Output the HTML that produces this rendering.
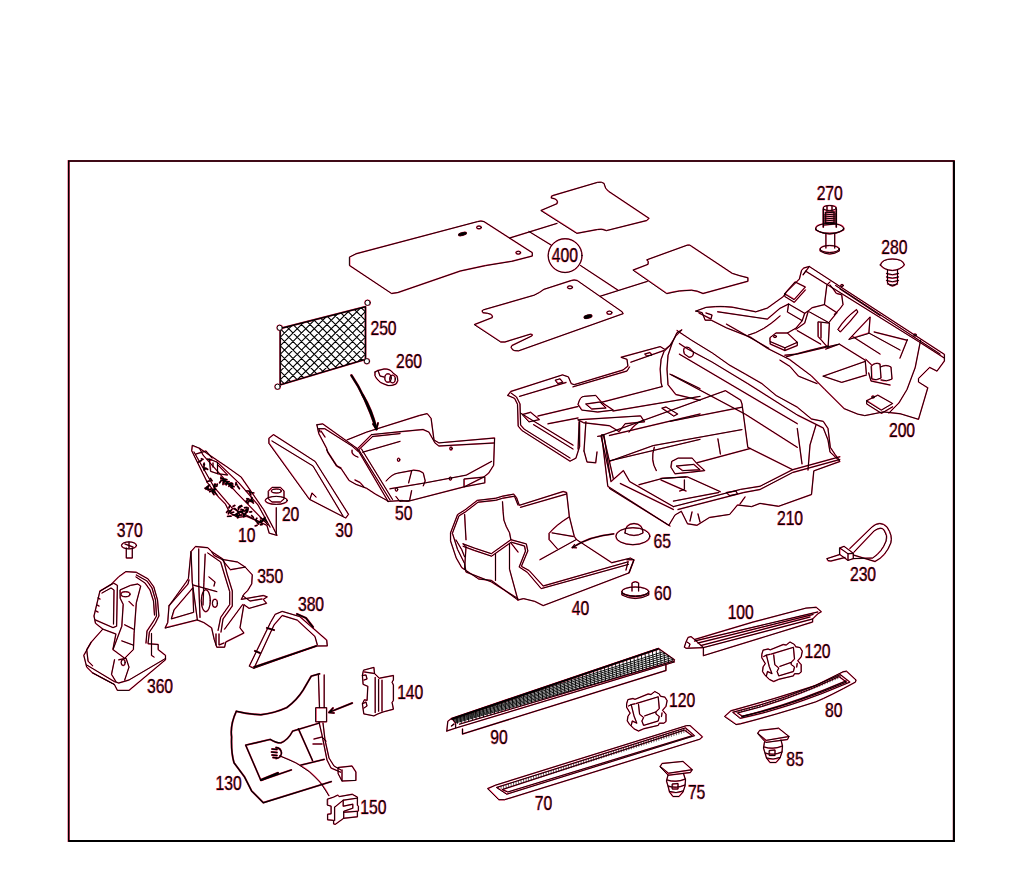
<!DOCTYPE html>
<html><head><meta charset="utf-8"><style>
html,body{margin:0;padding:0;background:#fff;width:1024px;height:891px;overflow:hidden}
svg{display:block}
.d path,.d ellipse{fill:none;stroke:#000;stroke-width:0.95;stroke-linejoin:round;stroke-linecap:round}
.d .f{fill:#000}
.u path,.u ellipse{fill:none;stroke:#ff2a5a;stroke-width:1.4;stroke-linejoin:round;stroke-linecap:round}
.u .f{fill:#ff2a5a}
text{font-family:"Liberation Sans",sans-serif;font-size:19.6px}
.tu text{fill:#ff2a5a;stroke:#ff2a5a;stroke-width:0.7}
.td text{fill:#000;stroke:#fff;stroke-width:0.12}
</style></head><body>
<svg width="1024" height="891" viewBox="0 0 1024 891">
<rect x="0" y="0" width="1024" height="891" fill="#fff"/>
<path d="M68.7,841 L68.7,161 L953.9,161 L953.9,841 Z" fill="none" stroke="#ff2a5a" stroke-width="2.2"/>
<path d="M68.7,841 L68.7,161 L953.9,161 L953.9,841 Z" fill="none" stroke="#000" stroke-width="1.5"/>
<path d="M953.9,161 L953.9,841 L68.7,841" fill="none" stroke="#000" stroke-width="2"/>
<g class="u">
<path d="M349.7,257 L356,253.8 L477.5,221.6 Q481,220.5 484,221.6 L532.3,252.7 L532.3,256 L511.9,261.3 Q485,265 460.3,271 L398,292.5 L391.6,293.5 L349.7,265.6 Z" />
<ellipse cx="462.5" cy="234" rx="4" ry="1.4" transform="rotate(-15 462.5 234)" class="f"/>
<ellipse cx="479" cy="227.4" rx="2.3" ry="1.4" />
<ellipse cx="518.3" cy="252.7" rx="2.3" ry="1.4" />
<path d="M541.2,210.4 L557,203.7 Q559,199 551.3,198 Q551,195.8 553,195.5 L597.4,182.4 Q602,181.5 604.1,183.5 Q605,189 608.6,191.3 L649,218.3 L646.8,220.5 L606.4,230.6 Q602,228.5 597.4,229.5 L577.2,233.3 Z" />
<path d="M633.3,270 L648,264.3 Q649,261 646.8,259.8 L687.2,245.2 Q690,244.5 691.7,246.4 L732.2,273.3 Q740,276 747.9,277.8 L747.9,281.2 L703,293.5 Q697,290.5 691.7,290.2 Q680,290 667,293.5 Z" />
<path d="M474.6,324.5 L492.2,317.6 Q494,313.5 483,312.7 Q481,310.5 483.4,309.8 L534.2,295.2 Q540,292.5 544,289.3 L571.3,280.5 Q574,279.5 577.2,280.5 L622.1,311.8 L623.1,313.7 L518.6,350.8 Q514,351 512.7,349.8 Q510,347 512,345.5 L531.3,336.2 Q534,334.5 530.3,334.2 L504.9,342 L501,342 Z" />
<ellipse cx="570" cy="287.3" rx="2.5" ry="1.4" />
<ellipse cx="609.4" cy="312.7" rx="2.5" ry="1.6" />
<ellipse cx="588" cy="316.6" rx="4" ry="1.6" transform="rotate(-15 588 316.6)" class="f"/>
<path d="M509.7,238 L557,223.4" />
<path d="M529,231.5 L551.3,245.2" />
<path d="M580.5,265.5 L618.2,290.3" />
<path d="M600.4,296.2 L647.3,281.4" />
<ellipse cx="565.1" cy="255.6" rx="16.9" ry="16.9" />
<path d="M280.2,328.5 L365.5,306.7 L365.5,359.4 L280.2,384.9 Z" style="stroke-width:1.85"/>
<ellipse cx="279.7" cy="327.8" rx="2.6" ry="2.6" style="fill:#fff"/>
<ellipse cx="367.6" cy="302.8" rx="2.6" ry="2.6" style="fill:#fff"/>
<ellipse cx="366.9" cy="361.2" rx="2.6" ry="2.6" style="fill:#fff"/>
<ellipse cx="277.6" cy="386.7" rx="2.6" ry="2.6" style="fill:#fff"/>
<path d="M375,372 L378,370.5 L384,369 Q390,368.5 393,373 L397,376 Q399,381 396,384 Q392,386 388,385.5 L384,384 Q380,383 377,379 Q374,376 375,372 Z" />
<ellipse cx="388" cy="378" rx="3.2" ry="4.2" />
<ellipse cx="392.5" cy="379" rx="2.8" ry="3.8" />
<path d="M378,370.5 L380,376 L384,377" />
<path d="M351.4,375.3 Q365,395 376.4,429.2" style="stroke-width:2.65"/>
<path d="M192.3,445.6 L191.7,450.7 L207.4,482.6 L218.7,497.2 L225.4,504 L229.9,513 L237.7,517.4 L246.7,516.3 L266.9,525.3 L269.2,533.2 L277,535.4 L273.7,528.7 L263.6,509.6 L241.1,477 L225.4,465.8 L218.7,461.3 L199.6,448.4 Z" />
<path d="M194,452 L214,487 L232,508 L262,523 M199.6,448.4 L203,455 L236,492 L268,525 M196,454 L206,451 L212,458 M217,462 L239,483 L258,505 L270,527" />
<path d="M209.7,459.1 L217.5,462.4 L217.5,473.7 L210.8,471.4 Z M217.5,464.5 L227.6,475 L217.5,473.7 M213,463 L213,467" />
<path d="M223.3,480.1 l-2.4,0.6 M223.8,480.3 l2.1,1.4 M224.7,481.4 l2.0,0.6 M220.5,481.5 l-0.9,1.3 M227.5,482.4 l-1.3,2.4 M221.0,477.1 l-0.1,1.6 M221.3,478.4 l2.4,0.2 M223.2,481.7 l-0.2,2.8 M223.7,480.7 l0.3,2.0 M227.6,482.6 l-2.6,1.4 M222.3,478.3 l1.0,1.3 M225.8,479.2 l-2.0,1.1 M227.3,481.7 l1.9,0.0 M226.9,479.6 l-2.3,0.1 M230.5,485.0 l-1.6,1.3 M230.6,483.4 l-3.0,0.3 M230.8,482.9 l1.5,0.5 M236.1,482.5 l-0.4,2.4 M231.4,485.6 l2.6,1.1 M230.8,483.9 l1.6,1.3 M237.5,486.0 l1.9,2.7 M231.5,483.7 l-2.5,1.2 M230.7,487.0 l1.6,1.3 M235.9,483.3 l1.0,1.3 M230.6,484.8 l2.0,1.9 M232.8,484.0 l-2.4,0.3 M249.4,500.2 l1.5,1.0 M251.7,499.7 l1.3,1.3 M250.6,501.0 l2.8,2.0 M251.5,497.3 l0.4,1.7 M245.9,501.3 l2.1,2.0 M247.3,499.7 l-0.6,2.0 M246.8,498.6 l1.9,0.4 M249.3,500.0 l-0.7,1.9 M251.7,492.8 l2.0,0.1 M248.6,491.2 l1.9,1.2 M249.4,492.0 l1.4,3.0 M252.2,497.9 l-1.5,2.2 M246.5,490.9 l3.3,0.2 M250.3,501.3 l2.8,0.2 M212.8,489.7 l1.9,2.9 M208.3,486.8 l-2.2,2.4 M215.7,489.2 l-2.7,2.0 M211.4,489.0 l-3.1,1.0 M212.1,490.6 l-2.4,1.1 M214.5,484.2 l-0.7,2.6 M208.3,488.2 l-3.3,0.1 M215.6,484.3 l-1.8,2.0 M212.4,491.4 l2.9,0.8 M207.7,487.6 l0.1,2.0 M215.3,486.0 l-1.2,3.1 M210.3,478.4 l1.7,2.3 M209.7,480.9 l-2.7,0.8 M212.4,492.2 l1.5,2.4 M209.6,485.0 l-2.7,1.9 M217.3,484.2 l-0.6,2.1 M208.9,486.0 l-2.8,1.6 M215.4,493.1 l1.2,1.4 M234.7,508.5 l1.8,1.5 M237.5,511.2 l1.7,2.7 M243.1,510.7 l1.5,0.4 M241.4,505.6 l-1.6,2.1 M232.5,514.8 l1.8,0.1 M234.8,505.4 l-1.7,1.0 M229.8,505.7 l-0.9,2.2 M237.6,513.2 l-2.8,1.9 M238.4,507.6 l0.1,1.9 M227.8,510.9 l-1.2,1.5 M231.9,509.4 l-1.5,2.1 M237.3,514.4 l1.0,2.9 M241.9,506.2 l-2.9,0.6 M229.7,510.7 l-1.3,3.1 M233.6,512.1 l-2.9,1.1 M242.5,510.8 l-0.9,1.7 M239.0,515.2 l-1.3,2.6 M231.0,516.2 l-3.4,0.2 M236.1,514.8 l1.8,2.8 M241.1,509.4 l2.3,0.6 M236.3,514.5 l0.1,1.6 M240.4,505.9 l-1.5,1.1 M243.4,514.4 l1.6,0.8 M245.8,513.8 l-2.5,1.4 M251.6,511.7 l-1.7,0.3 M241.9,512.0 l1.8,2.3 M247.5,512.0 l-2.3,1.2 M243.1,510.7 l-2.9,1.5 M241.7,515.0 l-2.5,0.3 M246.6,509.1 l-0.3,2.5 M247.0,507.5 l-2.5,0.2 M244.3,514.5 l-0.5,2.4 M248.2,507.9 l-0.3,2.3 M251.7,515.6 l1.6,1.8 M240.6,511.2 l-2.8,1.8 M245.3,510.2 l2.3,1.5 M265.0,517.5 l-1.2,1.0 M256.8,518.3 l-1.2,1.8 M258.6,521.9 l2.8,1.0 M256.0,520.9 l1.3,1.3 M260.5,520.2 l0.9,2.2 M260.5,517.7 l2.2,1.7 M261.8,521.1 l-2.4,1.2 M264.2,518.4 l-2.1,2.3 M264.7,519.1 l1.8,2.8 M257.0,525.3 l-1.7,0.6 M257.3,522.8 l1.2,1.2 M263.9,520.1 l-1.4,1.1 M259.1,522.5 l1.9,0.1 M262.2,524.5 l-1.7,0.2 M204.0,467.1 l-0.0,2.9 M201.5,458.8 l1.5,0.5 M204.4,464.2 l-0.4,1.8 M201.5,460.4 l-3.1,1.7 M207.4,459.1 l3.3,0.7 M203.7,467.2 l1.3,2.1 M204.1,463.2 l-0.5,1.5 M205.6,468.1 l2.0,1.3" style="stroke-width:1.85"/>
<path d="M268.5,491 L272,487.4 L280.5,487.4 L284,491 L284,499 L280.5,502 L272,502 L268.5,499 Z" />
<ellipse cx="276.3" cy="500.4" rx="11" ry="4" />
<ellipse cx="276.3" cy="491" rx="5" ry="2" />
<path d="M276.3,507.8 L276.3,533.7" />
<path d="M268.9,443 L268.9,438.3 L273.5,434.6 L315.2,461.5 L348.5,514.3 L345.7,518 L309.6,499.4 Z" />
<path d="M272,441 L313,466 L343,516" />
<path d="M310,499 L312,493 L316,497" />
<path d="M316.9,424.8 L322.7,423.9 L356.9,448.3 M316.9,424.8 L318.8,433.6 L326.6,448.3 L327.6,452.2 L336.4,465.9 L341.3,468.8 L349.1,480.5 L356,484.4 L366.7,488.3 L375.5,494.2 L386.2,500 L388.1,501.4" />
<path d="M318.8,428.7 L324.7,428.7 L352,446 L357.9,451.2 M318.8,428.7 L320,432 M352,450.2 Q351,455 357.9,457.1 M321,431 L325,437" />
<path d="M326.6,449.5 L328.5,453 L337,466 L341,468 M355,480 L360,482.5 L364,487" />
<path d="M371.6,434.6 L400,431.7 M372.6,436.5 L400,433.6 M357.9,448.3 L371.6,434.6 M358.5,450 L372.6,436.5 M362.8,452.2 L400,441.4" />
<path d="M347.1,439.9 L366.6,432.1 L419.4,415.5 L427.2,413.6 L431.1,418.4 L434,440 L438.9,442.9 L494.6,438 L493.6,465.3 L488.7,473.1 L483.8,477 L464.3,486.8 L407.7,501.4 L401.8,500.5 L388.1,501.4" />
<path d="M359,450 L390,500 M361.5,449 L392.5,499.5 M356.9,448.3 L388.1,501.4 M400,431.7 L423,429.5 L428.9,432.1 L435,443 L438.9,446 L494,443" />
<path d="M386.2,480.9 Q392,474 397.9,473.1 L413.5,470.2 Q420,470 423.3,473.1 L425.2,480.9 L423.3,485.8 M390,488.8 L425.2,482.9 L466.3,475.1 L491.6,461.4 M411.6,471.2 L408.6,482.9" />
<path d="M464.3,479 L484.8,477 L484.8,482.9 L464.3,486.8 Z M396,496.6 L399.8,501.4 L409.6,500.5 L411.6,490.7" />
<ellipse cx="398.6" cy="459.8" rx="1.2" ry="1.5" />
<ellipse cx="451" cy="448.5" rx="1.2" ry="1.5" />
<ellipse cx="396.5" cy="489.6" rx="1.2" ry="1.5" />
<ellipse cx="450.4" cy="478.6" rx="1.2" ry="1.5" />
<path d="M362.7,395 Q372,410 376.4,429.2" style="stroke-width:2.65"/>
<path d="M373,424 L376.4,429.2 L378,423" style="stroke-width:2.05"/>
<path d="M507.8,395.4 L510.7,391.5 L562.5,374.9 L568.4,376.9 L571.3,383.7 L574.2,384.7 L623,370 L627.9,366.1 L627,359.3 L621.1,357.3 L660.2,346.6 L665,349.5 L671.9,343.7 L676.8,332.9 L681.6,330" />
<path d="M519.5,396.4 L566,382.5 M555.5,380.1 L560,378.8 L562.8,382.3 L558,383.5 Z M573,386.8 L627,371 L629.5,367 M630.9,362.2 L664,350.5 M645,354 L650,352.5 L652,355 L647,356 Z" />
<path d="M681.6,330 L675.8,335.9 L669.9,345.6 L664,351.5 L661.1,359.3 L660.2,369.1 L661.1,382.7 L662.1,386.6 M671.9,343.7 L668,355.4 L667,369.1 L668,384.7 L675.8,394.5 L700,400.3" />
<path d="M683.6,350 Q684,346 689,347.6 L693.4,352 Q694,357 689,357.3 L684.5,354 Z M671.9,374.9 L700,388.6" />
<path d="M507.8,395.4 L514.6,398.4 L517.5,404.2 L518.2,426.1 L521.9,430.5 L570,461.2 L575.9,458.2 L579.6,446.6 L579.6,421.8" />
<path d="M511,393 L516.5,397 L520,404 L520.6,425 L524,429 L570,458 M520.4,413 L573,445.1 M533.6,424.7 L573,449" />
<path d="M538,416 L578,406.5 M601.6,402.3 L662,386.6 M548,423.8 L578,418 M613,411 L700,396.4 M522.6,414.5 L530.7,412.3 L539.4,419.6 L529.2,421.8 Z" />
<path d="M578.1,404.2 Q580,396.4 584,396.4 L595.7,395.4 L601.6,402.3 L613.3,410.1 L597.7,412 L582,410.1 Z M586,404 L600,402 L606,408 L592,409 Z" />
<path d="M578.1,419.8 L640.6,415.9 L644.5,421.8 L625,423.8 L619.1,431.6 L609.4,425.7 L584,422.8 Z M629,432 Q635,423 644,420" />
<path d="M579.1,421.8 L578.1,449.1 M585.9,421.8 L584,451 M584,451 L587,462 L595.7,462.8 L597,452" />
<path d="M597.7,436.4 L603.5,435.5 L613.3,478.4 M601,436 L610.5,478 M609.4,435.5 L700,414 M609.4,460.9 L700,439.4 M662.1,408.1 L666,407 L677.7,414 L674,416 Z M654.3,447.2 Q650,460 656.3,470.6" />
<path d="M677.1,330.6 L691.2,340 L712.4,353 L729,364.8 L745.5,374.2 L762,383.7 L776.1,395.5 L797.3,407.2 L811.5,419 L823.3,421.4 L828,428.5 L830.3,447.3 L835,454.4 L838.6,459.1 L839.8,461.5 L813.8,470.9 L811.5,494.5 L778.5,506.3 L760,503.4 L751.6,506.6 L737.5,505 L729.7,514.4 L709.4,517.5 L696.9,525.3 L687.5,523.8 L681.3,511.3 L675,515 L668.8,525.3 L607.8,486.3 L601.6,434.7 L603.9,434.7" />
<path d="M679.4,343.6 L686.5,348.3 L712,362 L747.8,383.7 L797.3,415 L823.3,428 L828,440 L830,452 L838.6,460" />
<path d="M679.4,354.2 L797.3,423.7 M670,374.2 L745.5,414.3 L797.3,447.3 M797.3,428.5 L802,463.8 M816,425 L810,445 L808,470" />
<path d="M603.9,434.7 L610.9,481.6 L623.4,470.6 L629.7,481.6 L673.4,506.6 M620.3,483.5 L673.4,509.5 M609.5,488.5 L670,526" />
<path d="M603.9,434.7 L725.4,390.7 L740.7,400.2 L742,404 L747.8,447.3 L792.6,469.7" />
<path d="M670,421.4 L741.9,407.2 M609.4,461.3 L653.1,445.6 L741.9,429.6" />
<path d="M639,484.7 L662.5,478.4 L685.9,476.9 M696.9,462.8 L750.2,448.5" />
<path d="M671.9,461.3 L678.1,458.1 L692.2,458.1 L696.9,463.6 L704.7,470.6 L690.6,472.2 L675,473.8 L671.1,467.5 Z M676.6,466 L693.8,464.4 L700,469.8 L682.8,470.6 Z" />
<path d="M660.9,478.4 L687.5,476.9 L720.3,491.7 M661,480 L686,491 M684.4,480 L684.4,489.4 L679.7,491 M673.4,501.1 L718.8,492.5" />
<path d="M673.4,506.6 L740.6,489.4 L760,486.3 L792.6,469.7 L839.8,456.8 M678,509.5 L743.75,492.5 L760,489.5 L792.6,472.5 L839.8,459.5" />
<path d="M726.6,492.5 L736,491 L737.5,494 L729.7,495.6 Z M717.9,438.9 L720.4,454" />
<path d="M690,521 L692,512 M700,522 L698,514 M740,504 L745,497" />
<path d="M695.8,311.1 L706,307.4 Q726,305 741,308.9 L755.7,311.8 L767.3,308.1 L783.4,296.5 L786.3,292.1 L799.4,279 L801.6,270.2 L803.8,268 L809.3,266.5 L944.4,354.4 L944.4,361 L937,371.1 L929.6,367.4 L918.5,378.5 L918.5,382 L927.8,387.8 L918.5,419.3 L900,413.7 L883.3,411.9 L864.8,415.6 L857.7,414.1 L844.1,408.6 L824.9,389.5 L811.3,375.8 L789.4,359.4 L767.5,348.4 L751.1,337.5 L726.5,327.9 L711.2,320.2 L705.2,320.2 L702.1,312.6 L695.8,311.1" />
<path d="M805.6,271.1 L918.5,341.5 L944.4,358.1 M835.6,285.5 L940,354 M809.3,266.5 L803,275 L805.6,271.1 M840,289 L880,315.5" />
<path d="M784.8,293.6 L795,281.9 L805.3,287 L794.3,299.4 Z M784.8,293.6 L784.8,296.5 L794.3,302.3 L805.3,290" />
<path d="M717.7,311.8 L767.3,319.1 L780,308.3 L788.6,304 L804.7,313.3 L808.4,310.8 L812.1,307.7 L824.4,304.6 L836.8,312.7 M824.4,304.6 L826.9,284.9 L830,282" />
<path d="M788.6,304 L787.4,312 L802.2,320.7 L804.7,313.3 M802.2,320.7 L796,328.1 L787.4,333 M808.4,310.8 L804.7,323.1 L796,329.3 M836.8,312.7 L829.4,321.9 M809.6,312 L829.4,323" />
<path d="M699,313 L705,316 L711,319 L712,315 L706,313 M726.5,324.2 L768.8,348.3 M748.4,335.1 Q763,331.5 780,316" />
<path d="M770.2,337.5 L776,333 L787.4,333 L797.3,342.3 L784.9,347.8 L770.2,341.6 Z M770.2,341.6 L770.2,344 L784.9,350.5 L797.3,345.5 L797.3,342.3 M784.9,347.8 L784.9,350.5" />
<ellipse cx="775" cy="336.5" rx="1.5" ry="1" />
<path d="M784.9,355.2 L797.3,354 L839.3,344.1 L865.2,360.2 L866.4,373.8 M786.3,356.8 Q810,350 828,346 M839.3,344.1 L825.7,349.1" />
<path d="M823.2,376.2 L865.2,361.4 M823.2,376.2 L841.7,382.4 L866.4,375 M797.3,330.6 L820.7,344.1 M780,360.2 L789.9,366.4 L798.5,376.2 L817,383.6" />
<path d="M836.8,293.5 L841.7,294.8 L843,304.6 L839.3,309.6 L834.3,314.5 M830,285 L834,290 L836,293" />
<path d="M907.4,339.6 L900,358.1 M920.6,340.2 L915.2,367.6 L907,389.5 L898.8,403.1 L889,413" />
<path d="M866.7,400.7 L877.8,395.2 L892.6,403.5 L881.5,410 Z M866.7,400.7 L866.7,404 L881.5,413.3 L892.6,406.8" />
<path d="M818.3,321.9 L829.4,323.1 L828.1,347.8 L818.3,336.7 Z M821,323 L821,338" />
<path d="M838,329.3 Q845,318 856.5,309.6 L857.8,312 Q850,322 840.5,331.8 Z" />
<path d="M849.1,339.2 L870.1,317 L868.9,333 Z M852.8,336.7 L880,354 M868.9,333 L900,350" />
<path d="M871.4,366 Q875,362 880,364 L881,378 Q876,381 872,379 Z M880.5,367 Q886,364 891,367 L892,379 Q887,382 881,380" />
<path d="M865.9,359.4 L871.4,364.8 M874.2,332 L907,340.2 M868.7,373 L871,381 L890,385" />
<ellipse cx="873" cy="397" rx="1.3" ry="1" />
<ellipse cx="915" cy="335" rx="1.3" ry="1" />
<ellipse cx="842" cy="285.5" rx="1.3" ry="1" />
<path d="M823.3,209 L823.3,227 M836.3,209 L836.3,227" style="stroke-width:1.75"/>
<ellipse cx="829.7" cy="208" rx="6.5" ry="2.5" />
<path d="M827,206 L827,211 M832,206 L832,211 M825,213 L835,212 M824,215 L836,214 M824,217 L836,216 M824,219 L836,218 M824,221 L836,220 M824,223 L836,222 M824,225 L836,224" style="stroke-width:1.45"/>
<path d="M826,212 L834,212 L834,223 L826,223 Z" style="stroke-width:1.35"/>
<ellipse cx="829.7" cy="228.3" rx="14" ry="5" />
<path d="M815.7,228.3 L815.7,230 Q829.7,238 843.7,230 L843.7,228.3" />
<path d="M825.9,234 L825.9,248 M834.7,234 L834.7,248" />
<ellipse cx="829.7" cy="249" rx="9.6" ry="3.5" />
<path d="M820.1,249 L820.1,251 Q829.7,257 839.3,251 L839.3,249" />
<path d="M880.4,265 Q882,259 892.4,259 Q903,259 904.4,265 Q900,270 892.4,270.5 Q884,270 880.4,265 Z" />
<path d="M887.5,270 L887.5,283 Q892.4,289 897.5,283 L897.5,270 M886.5,273.5 Q892.4,276 898.5,273.5 M886.5,277 Q892.4,279.5 898.5,277 M886.5,280.5 Q892.4,283 898.5,280.5 M887.5,284 Q892.4,286.5 897.5,284" />
<path d="M450.6,532.7 L457.6,514.5 L464.6,510.2 L477.3,500.4 L495.5,498.3 L502.5,496.2 L513.7,494.1 L516.5,497.6 L519.3,505.3 L563.2,491.5 L566.6,492.5 L569.3,516.3 L574.3,536.5 L576.4,539.5 L611.7,562.7 L630.4,558.1 L634,560 L629.2,572.8 L543.2,605.6 L534.8,601.4 L523.5,598.6 L517.9,600 L491.3,580.4 L478.7,579 L461.8,567.7 L456.2,557.9 L450.6,541.1 Z" />
<path d="M452.3,533.5 L459,515.8 L465.6,511.8 L478,502.2 L495.8,500.3 L502.8,498.2 L514.5,496.2 L518,505 M520.5,507.3 L566.5,494" />
<path d="M452.7,534.1 L457.6,549.5 L464.6,563.5 L466,572 L491.3,581.8 L517.9,598.6 M456,540 L461.7,549.6 L464.6,556.8" />
<path d="M463.2,543.9 L474.5,548.1 L491.3,553.7 L510.9,539.7 L526.3,543.9 L527.8,550.9 L521.4,566.3 L529.2,570.6 L543.2,586 L628,561.8 M463.2,546.3 L474.5,550.5 L491.5,556.2 L511.2,542.2 L524.5,546 L525.5,551 L519.2,567 L527.4,572.4 L541.2,588.6 L628.5,564.4" />
<path d="M464.6,514.5 L466,539.7 M502.5,501.8 Q503,512 503.9,520.1 Q506,527 509.5,532.7 L510.9,539.7 M495.5,553.7 L495.5,580.4 M509.5,543.9 L509.5,569.1 L517.9,600 M511,543 L518,552 M463.2,543.9 L466,546.7 L464.6,569.1" />
<path d="M569.3,516.8 Q556,525 549.1,533.4 L549.1,539.5 L557.2,548.6 M552.1,532.9 L573.3,536.5 M540,559.7 L576.4,539.5 M626.9,559.7 L633.9,559.7 L628.9,572.8 M628,562 L626,570" />
<ellipse cx="632.9" cy="536.2" rx="17" ry="8.5" />
<path d="M625,533 Q625,524 634,523.5 Q643,524 643,533 Q634,538 625,533 Z" />
<path d="M572.3,547.6 Q590,536 613.7,533.9" style="stroke-width:1.85"/>
<path d="M574.5,544.5 L572.3,547.6 L576.5,547.8" />
<ellipse cx="635.3" cy="591.5" rx="13.4" ry="4.5" />
<path d="M621.9,591.5 L621.9,595 Q635.3,602 648.7,595 L648.7,591.5" />
<path d="M632,591 L632,583 Q635.3,580.5 638.6,583 L638.6,591 M621.9,593.5 Q635.3,600 648.7,593.5" />
<path d="M827,558.6 L839.8,554.5 M827,558.6 Q827,561.5 831,561 L845,557.5" />
<path d="M839.8,548 L844,546.3 L853.3,553.3 L853.3,558.6 L848,560.4 L839.8,554.5 Z M839.8,548 L848,553.8 L853.3,553.3 M848,553.8 L848,560.4" />
<path d="M849.8,548.6 L872,527 Q880,520 887,527 Q893,536 890.8,543 Q886,556 875,561.5 L853.3,555" />
<path d="M853.9,552.2 L874,531 Q881,526 884,530 Q888,536 886.1,541 Q882,552 872.7,558 L853.3,558.6" />
<ellipse cx="129" cy="545.4" rx="7.5" ry="3.5" />
<path d="M125,544 L133,547 M129,542 L129,548" />
<path d="M126.3,548 L126.3,558 L132.3,558 L132.3,548" />
<path d="M126.1,571.6 L136.3,572.3 L148,578.9 L153.8,586.9 L157.5,600 L158.9,616 L155.3,623.3 L149.4,632.1 L148,643.7 L158.2,644.5 L158.2,649.6 L165.5,655.4 L165.5,659.8 L129,690.4 L117.4,690.4 L114.4,684.5 L92.6,672.9 L86.7,667.1 L83.8,655.4 L91.1,642.3 L102.8,629.1 L95.5,623.3 L94,616 L99.9,591.2 L111.5,584 L118.8,576.7 Z" />
<path d="M136.3,575 L147,581 L152,588 L155.5,600 L156.5,616 L153,622 L147,631 L146,643 M136,577 L145,583 L150,590 L153.5,601 L154.5,615" />
<path d="M99.9,591.2 L113.7,583.2 L117.4,585.4 L116.6,626.2 L113,627.6 L95.5,620 M102,593 L111,588 L114,590 L113.5,624 M98,598 L100,599 M97,605 L99,606 M96,611 L98,612" />
<path d="M120.3,589.8 L130.5,585.4 L137.8,584 L140.7,586.1 L136.3,602.9 L134.1,633.5 L133.4,649.6 L124.7,658.3 L113,649.6 L121.8,626.2 L123.2,604.4 L120.3,598.5 Z" />
<path d="M129,601.4 L133.4,605.8 M124.7,624.8 L133.4,629.1 M121.8,640.9 L133.4,645.2" />
<ellipse cx="125.5" cy="594.2" rx="4.5" ry="2.5" />
<path d="M86.7,665 L114.4,681.6 L118.8,683 L129,680 L165.5,658.5 M92.6,672.9 L114.4,684.5 M114.5,659.8 L111.5,674.3 L115.9,681.6 M118.8,659.8 L126.1,658.3 L129,667.1 L124.7,680" />
<path d="M151.5,633.5 L151.5,655.4 L154,657 M91.1,642.3 L86.7,649.6 L88.1,661.3 L92.6,665.7 M102.8,629.1 L115.9,634 L113,649" />
<ellipse cx="123.2" cy="662.5" rx="2" ry="3" />
<path d="M165.2,627.8 L167.7,622.6 L169,605.8 L185.8,582.6 L188.4,578.7 L191,551.6 L195.5,546.5 L207.8,547.7 L211.6,551.6 L214.2,555.5 L222,559.4 L237.5,562 L245.2,567.1 L252.3,574.9 L251.7,583.9 L247.8,590.4 L243.9,594.2 L241.3,599.4 L263.3,595.5 L267.2,596.8 L263.3,599.4 L266.5,603.3 L249.1,608.4 L243.9,604.6 L240,627.8 L243.9,633 L225.8,642 L224.6,647.2 L216.8,647.2 L214.2,639.4 L211.6,627.8 L203.9,622.6 L197.4,620 Z" />
<path d="M171.6,618.8 L193.6,612.3 L192.9,587.8 L174.2,609.7 Z M169,605.8 L188,584 L189,580" />
<path d="M191,551.6 L192.3,582.6 L197.4,620 M198.7,549 L198.7,582.6 L200,617.4 M205.2,554.2 L203.9,582.6 L203,605" />
<path d="M207.8,553 L220.7,562 L224.6,575 L229.7,591.6 L229.7,604.6 L220.7,617.4 L218.1,630.3 M211.6,551.6 L223.3,559.4 L227.1,574 L232.3,591 L232.3,606 L223,619 L221,632" />
<ellipse cx="205.8" cy="600.7" rx="4.5" ry="11" />
<ellipse cx="214.9" cy="603.3" rx="2.5" ry="4" />
<path d="M209,577 L215,582 L214,586 M193,585 L216.8,591.6" />
<path d="M222,559.4 L227.1,565.8 L230.4,569.7 L245.2,567.1 M224.6,629.1 L242.6,604.6 M243,596 L250,601 L262,599" />
<path d="M216,634 L216,645 M219,634 L219,645 L224,643" />
<path d="M249.4,665.9 L270.5,622.5 L275.2,614.3 L282.2,611.4 L299.8,616.6 L326.7,640.1 L327.3,645.9 L316.2,646 L254,668.2 Z" />
<path d="M254,668.2 L274,625 L282.2,615.5 L297.4,620.2 L315,636.6 L317.3,644.8" />
<path d="M297,614 L306,618 L313,627 M267,628 L274,630 M255,651 L260,653" style="stroke-width:2.25"/>
<path d="M254,667 L316.2,646" style="stroke-width:2.05"/>
<path d="M236.3,711.3 Q247,714 260.9,714.8 Q275,713 286.7,707.7 Q297,700 303.1,690.2 L311.3,676.1 L319.5,673.8 M236.3,711.3 Q230,725 231.6,737 Q231,752 234,762.8 L244.5,776.9 L251.6,790.9 L263.3,802.7 L331.2,781.6" style="stroke-width:1.90"/>
<path d="M245.7,745.2 L270.3,739.4 Q276,743 280.9,742.9 Q288,740 292.6,731.2 L319.5,723 M245.7,745.2 L260.9,780.4 L291.4,769.8 M300.8,765.2 L324.2,759.3 M298.4,728.8 L312.5,760.5" style="stroke-width:1.75"/>
<path d="M261,780 L278,773" style="stroke-width:2.45"/>
<path d="M318.4,675 L319.5,707.7 M324.2,675 L324.2,707.7 M316,707.7 L326.6,707.7 L326.6,721.8 L316,721.8 Z M319,722 L322,735 L327,760 L331,768 L340.6,772.2" />
<path d="M323,723 L325,740 L329,758 L334,766 L341,770" />
<path d="M338.3,767.5 L352,766 L355.9,772 L355.9,780.4 L342,781 L338.3,774 Z M342,770 L342,781" />
<path d="M276,747.5 Q281,748 281.5,753 Q281,758 276,758.5 M272,749 L277,749.5 M271.5,752 L277,752.5 M272,755 L277,755.5 M273,757.5 L277,758" style="stroke-width:1.85"/>
<path d="M279.7,755.8 Q315,768 328.9,795.6" />
<path d="M352.3,703 L328.9,712.4 M333,708 L328.9,712.4 L334,713" style="stroke-width:1.95"/>
<path d="M314,739 L322,737 L326,741 M313,744 L322,744" />
<path d="M363.8,670.1 L373.9,667.4 L374.5,673.5 L379.3,678.2 L393.4,675.5 L393.4,680 L392.1,682.2 L393.4,685 L393.4,700.4 L392.1,702.5 L393.4,709.2 L383.3,711.9 L377.9,713.9 L373.9,715.9 L363.8,713.9 L362.4,703.8 L364.4,699.8 L367.1,700.4 L367.8,686.3 L363.1,684.3 L362.4,675.5 Z" />
<path d="M375.2,677.5 L375.2,712.6 M378.6,679.5 L378.6,711.2 M382,680.2 L382,711.2 M364.5,672 L374.5,673.5 M362.4,675.5 L366,675 L367,679 L364,680 M362.4,703.8 L366,702 L367,706 L364,708" />
<path d="M327.6,799.1 L333.6,797.1 L337.7,795.1 L339.2,796.6 L352.3,794.3 L357.4,797.1 L357.4,805.2 L358.4,806.2 L358.4,810.8 L357.4,811.8 L357.4,816.8 L343.7,818.3 L335.2,824.4 L333.6,823.9 L333.6,820.4 L327.6,819.8 L327.6,814.3 L331.1,813.8 L331.1,806.2 L327.6,805.2 Z" />
<path d="M334.6,807.2 L343.2,800.2 L357.4,798.1 M343.2,800.2 L343.2,806.2 L352.8,804.2 L352.8,808.2 L343.7,811.3 L343.7,818.3 M343.7,812.3 L357.4,811.3 M334.6,807.2 L334.6,820.4" />
<path d="M446.8,731 L447.8,721.3 L451.7,718.3 L658.4,648.4 L674.5,659.7 L673.5,661.9 M451.7,718.3 L455.6,723.2 L455.6,728.1 L446.8,731 M459.5,724.2 L672.4,661.3 M455.6,728.1 L674.5,661.9" />
<path d="M462.5,729 L462.5,734 L665.9,670.4 L665.9,665 M451.5,726 L454,724" style="stroke-width:1.55"/>
<path d="M452,719 L658,649" style="stroke-width:2.25"/>
<path d="M487.9,788.5 L495.7,785.1 L686.6,725.6 L690,725.6 L702.4,736.8 L700.1,739.1 L504.7,799.7 L499.1,799.7 Z" />
<path d="M496.8,787.4 L685.5,727.9 L694.5,735.7 L507,794.1 Z" />
<path d="M502.5,789.5 L684.4,730.1 L692.3,735.7 L508.1,791.9 Z" />
<path d="M660.2,766.5 L662,763.5 L683,761.4 L692.2,769.7 L690.5,772.5 L668.5,775.2 Z M660.2,766.5 L668.5,773.2 L692.2,769.7" />
<path d="M668,775 L666.5,781 L668,786 L669.5,792 L673,796.5 L679,796.5 L683,792 L685,786 L685.5,780 L683.5,773.5 M667,780 Q676,783 685.5,779 M668,786 Q676,789 685,785 M669.5,791.5 Q676,794 683,791 M672.5,784 L678,783.5 L678,789 L672.5,789 Z" />
<path d="M626.7,703.5 L627.9,699.6 L632.9,698.5 L635.0,699.3 L648.1,694.0 L651.0,694.5 L654.8,691.5 L659.3,694.0 L660.4,696.2 L664.9,697.1 L667.1,700.7 L666.0,706.3 L662.6,710.3 L666.0,714.2 L666.0,721.5 L663.8,723.2 L659.3,723.2 L658.2,725.4 L643.6,728.8 L638.5,731.0 L634.0,728.8 L629.5,724.3 L627.3,720.9 L627.9,716.4 L630.1,713.1 L626.7,707.4 Z" />
<path d="M636.3,703.5 L658.2,696.8 L659.3,708.6 L655.9,711.9 L644.7,715.9 M638.5,704.5 L639.6,714.2 L643.6,717.5 L641.9,721.0 L643.6,725.4 L658.2,721.0 L659.3,716.5 L656.0,714.0 L655.9,711.9 M631.2,704.6 L634.0,715.9 L636.8,723.2 L632.3,721.0 L631.2,725.4 M628.5,706.0 L631.2,704.6 L635.0,703.8 M662.0,713.0 L661.5,716.5" />
<path d="M684.4,646.9 L686,642 L688.1,637.4 L691,636.6 L694.6,639.5 L753.2,622 L806,608.1 L816.2,607.3 L821.3,611.7 L817.7,613.9 L812.6,619 L812.6,622 L703.4,655.7 L703.4,647.6 L686.6,648.3 Z" />
<path d="M694.6,639.5 L703.4,647.6 M694.6,641 L817.7,612 M698,643 L813,614.5 M701,645.5 L810,617 M703.4,647.6 L812.6,619" style="stroke-width:1.45"/>
<path d="M687,642 L690,644 L689,647" />
<path d="M761.9,654.0 L763.1,650.1 L768.1,649.0 L770.2,649.8 L783.3,644.5 L786.2,645.0 L790.0,642.0 L794.5,644.5 L795.6,646.7 L800.1,647.6 L802.3,651.2 L801.2,656.8 L797.8,660.8 L801.2,664.7 L801.2,672.0 L799.0,673.7 L794.5,673.7 L793.4,675.9 L778.8,679.3 L773.7,681.5 L769.2,679.3 L764.7,674.8 L762.5,671.4 L763.1,666.9 L765.3,663.6 L761.9,657.9 Z" />
<path d="M771.5,654.0 L793.4,647.3 L794.5,659.1 L791.1,662.4 L779.9,666.4 M773.7,655.0 L774.8,664.7 L778.8,668.0 L777.1,671.5 L778.8,675.9 L793.4,671.5 L794.5,667.0 L791.2,664.5 L791.1,662.4 M766.4,655.1 L769.2,666.4 L772.0,673.7 L767.5,671.5 L766.4,675.9 M763.7,656.5 L766.4,655.1 L770.2,654.3 M797.2,663.5 L796.7,667.0" />
<path d="M724.8,716.3 L730.9,710.8 Q775,699 815.7,685.5 L843,671.8 L846.5,671.2 L856,680 L855.4,682.1 Q830,696 815.7,701.9 Q775,715 740.5,723.8 L736.4,724.5 Z" />
<path d="M733,712.2 Q785,700 840.3,674.6 L849.9,682.1 Q790,708 740.5,718.3 Z" />
<path d="M737.8,712.9 Q785,702 839,676.6 L846.5,682.1 Q790,706 742.6,716.3 Z" />
<path d="M742,716.5 Q790,705 846,681" style="stroke-width:1.75"/>
<path d="M757.8,733.3 L759.5,730.5 L778.6,728.2 L789,736.5 L787.5,739.5 L766.1,742.4 Z M757.8,733.3 L766.1,740.4 L789,736.5" />
<path d="M764.5,742 L763.5,748 L765,753 L766.5,758 L770,762.5 L776,762.5 L780,758 L782,752 L782.5,746 L781,740 M764,747 Q773,750 782.5,746 M765,753 Q773,756 782,752 M766.5,758 Q773,760.5 780,757.5 M769.5,750.5 L775,750 L775,755.5 L769.5,755.5 Z" />
</g>
<g class="d">
<path d="M349.7,257 L356,253.8 L477.5,221.6 Q481,220.5 484,221.6 L532.3,252.7 L532.3,256 L511.9,261.3 Q485,265 460.3,271 L398,292.5 L391.6,293.5 L349.7,265.6 Z" />
<ellipse cx="462.5" cy="234" rx="4" ry="1.4" transform="rotate(-15 462.5 234)" class="f"/>
<ellipse cx="479" cy="227.4" rx="2.3" ry="1.4" />
<ellipse cx="518.3" cy="252.7" rx="2.3" ry="1.4" />
<path d="M541.2,210.4 L557,203.7 Q559,199 551.3,198 Q551,195.8 553,195.5 L597.4,182.4 Q602,181.5 604.1,183.5 Q605,189 608.6,191.3 L649,218.3 L646.8,220.5 L606.4,230.6 Q602,228.5 597.4,229.5 L577.2,233.3 Z" />
<path d="M633.3,270 L648,264.3 Q649,261 646.8,259.8 L687.2,245.2 Q690,244.5 691.7,246.4 L732.2,273.3 Q740,276 747.9,277.8 L747.9,281.2 L703,293.5 Q697,290.5 691.7,290.2 Q680,290 667,293.5 Z" />
<path d="M474.6,324.5 L492.2,317.6 Q494,313.5 483,312.7 Q481,310.5 483.4,309.8 L534.2,295.2 Q540,292.5 544,289.3 L571.3,280.5 Q574,279.5 577.2,280.5 L622.1,311.8 L623.1,313.7 L518.6,350.8 Q514,351 512.7,349.8 Q510,347 512,345.5 L531.3,336.2 Q534,334.5 530.3,334.2 L504.9,342 L501,342 Z" />
<ellipse cx="570" cy="287.3" rx="2.5" ry="1.4" />
<ellipse cx="609.4" cy="312.7" rx="2.5" ry="1.6" />
<ellipse cx="588" cy="316.6" rx="4" ry="1.6" transform="rotate(-15 588 316.6)" class="f"/>
<path d="M509.7,238 L557,223.4" />
<path d="M529,231.5 L551.3,245.2" />
<path d="M580.5,265.5 L618.2,290.3" />
<path d="M600.4,296.2 L647.3,281.4" />
<ellipse cx="565.1" cy="255.6" rx="16.9" ry="16.9" />
<clipPath id="netclip"><path d="M280.2,328.5 L365.5,306.7 L365.5,359.4 L280.2,384.9 Z"/></clipPath>
<path clip-path="url(#netclip)" d="M90.0,300 L190.0,400 M90.0,400 L190.0,300 M98.5,300 L198.5,400 M98.5,400 L198.5,300 M107.0,300 L207.0,400 M107.0,400 L207.0,300 M115.5,300 L215.5,400 M115.5,400 L215.5,300 M124.0,300 L224.0,400 M124.0,400 L224.0,300 M132.5,300 L232.5,400 M132.5,400 L232.5,300 M141.0,300 L241.0,400 M141.0,400 L241.0,300 M149.5,300 L249.5,400 M149.5,400 L249.5,300 M158.0,300 L258.0,400 M158.0,400 L258.0,300 M166.5,300 L266.5,400 M166.5,400 L266.5,300 M175.0,300 L275.0,400 M175.0,400 L275.0,300 M183.5,300 L283.5,400 M183.5,400 L283.5,300 M192.0,300 L292.0,400 M192.0,400 L292.0,300 M200.5,300 L300.5,400 M200.5,400 L300.5,300 M209.0,300 L309.0,400 M209.0,400 L309.0,300 M217.5,300 L317.5,400 M217.5,400 L317.5,300 M226.0,300 L326.0,400 M226.0,400 L326.0,300 M234.5,300 L334.5,400 M234.5,400 L334.5,300 M243.0,300 L343.0,400 M243.0,400 L343.0,300 M251.5,300 L351.5,400 M251.5,400 L351.5,300 M260.0,300 L360.0,400 M260.0,400 L360.0,300 M268.5,300 L368.5,400 M268.5,400 L368.5,300 M277.0,300 L377.0,400 M277.0,400 L377.0,300 M285.5,300 L385.5,400 M285.5,400 L385.5,300 M294.0,300 L394.0,400 M294.0,400 L394.0,300 M302.5,300 L402.5,400 M302.5,400 L402.5,300 M311.0,300 L411.0,400 M311.0,400 L411.0,300 M319.5,300 L419.5,400 M319.5,400 L419.5,300 M328.0,300 L428.0,400 M328.0,400 L428.0,300 M336.5,300 L436.5,400 M336.5,400 L436.5,300 M345.0,300 L445.0,400 M345.0,400 L445.0,300 M353.5,300 L453.5,400 M353.5,400 L453.5,300 M362.0,300 L462.0,400 M362.0,400 L462.0,300 M370.5,300 L470.5,400 M370.5,400 L470.5,300 M379.0,300 L479.0,400 M379.0,400 L479.0,300 M387.5,300 L487.5,400 M387.5,400 L487.5,300 M396.0,300 L496.0,400 M396.0,400 L496.0,300 M404.5,300 L504.5,400 M404.5,400 L504.5,300 M413.0,300 L513.0,400 M413.0,400 L513.0,300 M421.5,300 L521.5,400 M421.5,400 L521.5,300 M430.0,300 L530.0,400 M430.0,400 L530.0,300 M438.5,300 L538.5,400 M438.5,400 L538.5,300 M447.0,300 L547.0,400 M447.0,400 L547.0,300 M455.5,300 L555.5,400 M455.5,400 L555.5,300 M464.0,300 L564.0,400 M464.0,400 L564.0,300 M472.5,300 L572.5,400 M472.5,400 L572.5,300 M481.0,300 L581.0,400 M481.0,400 L581.0,300 M489.5,300 L589.5,400 M489.5,400 L589.5,300 M498.0,300 L598.0,400 M498.0,400 L598.0,300 M506.5,300 L606.5,400 M506.5,400 L606.5,300 M515.0,300 L615.0,400 M515.0,400 L615.0,300 M523.5,300 L623.5,400 M523.5,400 L623.5,300 M532.0,300 L632.0,400 M532.0,400 L632.0,300 M540.5,300 L640.5,400 M540.5,400 L640.5,300 M549.0,300 L649.0,400 M549.0,400 L649.0,300 M557.5,300 L657.5,400 M557.5,400 L657.5,300 M566.0,300 L666.0,400 M566.0,400 L666.0,300 M574.5,300 L674.5,400 M574.5,400 L674.5,300 M583.0,300 L683.0,400 M583.0,400 L683.0,300 M591.5,300 L691.5,400 M591.5,400 L691.5,300" style="stroke-width:1.15"/>
<path d="M280.2,328.5 L365.5,306.7 L365.5,359.4 L280.2,384.9 Z" style="stroke-width:1.4"/>
<ellipse cx="279.7" cy="327.8" rx="2.6" ry="2.6" style="fill:#fff"/>
<ellipse cx="367.6" cy="302.8" rx="2.6" ry="2.6" style="fill:#fff"/>
<ellipse cx="366.9" cy="361.2" rx="2.6" ry="2.6" style="fill:#fff"/>
<ellipse cx="277.6" cy="386.7" rx="2.6" ry="2.6" style="fill:#fff"/>
<path d="M375,372 L378,370.5 L384,369 Q390,368.5 393,373 L397,376 Q399,381 396,384 Q392,386 388,385.5 L384,384 Q380,383 377,379 Q374,376 375,372 Z" />
<ellipse cx="388" cy="378" rx="3.2" ry="4.2" />
<ellipse cx="392.5" cy="379" rx="2.8" ry="3.8" />
<path d="M378,370.5 L380,376 L384,377" />
<path d="M351.4,375.3 Q365,395 376.4,429.2" style="stroke-width:2.2"/>
<path d="M192.3,445.6 L191.7,450.7 L207.4,482.6 L218.7,497.2 L225.4,504 L229.9,513 L237.7,517.4 L246.7,516.3 L266.9,525.3 L269.2,533.2 L277,535.4 L273.7,528.7 L263.6,509.6 L241.1,477 L225.4,465.8 L218.7,461.3 L199.6,448.4 Z" />
<path d="M194,452 L214,487 L232,508 L262,523 M199.6,448.4 L203,455 L236,492 L268,525 M196,454 L206,451 L212,458 M217,462 L239,483 L258,505 L270,527" />
<path d="M209.7,459.1 L217.5,462.4 L217.5,473.7 L210.8,471.4 Z M217.5,464.5 L227.6,475 L217.5,473.7 M213,463 L213,467" />
<path d="M223.3,480.1 l-2.4,0.6 M223.8,480.3 l2.1,1.4 M224.7,481.4 l2.0,0.6 M220.5,481.5 l-0.9,1.3 M227.5,482.4 l-1.3,2.4 M221.0,477.1 l-0.1,1.6 M221.3,478.4 l2.4,0.2 M223.2,481.7 l-0.2,2.8 M223.7,480.7 l0.3,2.0 M227.6,482.6 l-2.6,1.4 M222.3,478.3 l1.0,1.3 M225.8,479.2 l-2.0,1.1 M227.3,481.7 l1.9,0.0 M226.9,479.6 l-2.3,0.1 M230.5,485.0 l-1.6,1.3 M230.6,483.4 l-3.0,0.3 M230.8,482.9 l1.5,0.5 M236.1,482.5 l-0.4,2.4 M231.4,485.6 l2.6,1.1 M230.8,483.9 l1.6,1.3 M237.5,486.0 l1.9,2.7 M231.5,483.7 l-2.5,1.2 M230.7,487.0 l1.6,1.3 M235.9,483.3 l1.0,1.3 M230.6,484.8 l2.0,1.9 M232.8,484.0 l-2.4,0.3 M249.4,500.2 l1.5,1.0 M251.7,499.7 l1.3,1.3 M250.6,501.0 l2.8,2.0 M251.5,497.3 l0.4,1.7 M245.9,501.3 l2.1,2.0 M247.3,499.7 l-0.6,2.0 M246.8,498.6 l1.9,0.4 M249.3,500.0 l-0.7,1.9 M251.7,492.8 l2.0,0.1 M248.6,491.2 l1.9,1.2 M249.4,492.0 l1.4,3.0 M252.2,497.9 l-1.5,2.2 M246.5,490.9 l3.3,0.2 M250.3,501.3 l2.8,0.2 M212.8,489.7 l1.9,2.9 M208.3,486.8 l-2.2,2.4 M215.7,489.2 l-2.7,2.0 M211.4,489.0 l-3.1,1.0 M212.1,490.6 l-2.4,1.1 M214.5,484.2 l-0.7,2.6 M208.3,488.2 l-3.3,0.1 M215.6,484.3 l-1.8,2.0 M212.4,491.4 l2.9,0.8 M207.7,487.6 l0.1,2.0 M215.3,486.0 l-1.2,3.1 M210.3,478.4 l1.7,2.3 M209.7,480.9 l-2.7,0.8 M212.4,492.2 l1.5,2.4 M209.6,485.0 l-2.7,1.9 M217.3,484.2 l-0.6,2.1 M208.9,486.0 l-2.8,1.6 M215.4,493.1 l1.2,1.4 M234.7,508.5 l1.8,1.5 M237.5,511.2 l1.7,2.7 M243.1,510.7 l1.5,0.4 M241.4,505.6 l-1.6,2.1 M232.5,514.8 l1.8,0.1 M234.8,505.4 l-1.7,1.0 M229.8,505.7 l-0.9,2.2 M237.6,513.2 l-2.8,1.9 M238.4,507.6 l0.1,1.9 M227.8,510.9 l-1.2,1.5 M231.9,509.4 l-1.5,2.1 M237.3,514.4 l1.0,2.9 M241.9,506.2 l-2.9,0.6 M229.7,510.7 l-1.3,3.1 M233.6,512.1 l-2.9,1.1 M242.5,510.8 l-0.9,1.7 M239.0,515.2 l-1.3,2.6 M231.0,516.2 l-3.4,0.2 M236.1,514.8 l1.8,2.8 M241.1,509.4 l2.3,0.6 M236.3,514.5 l0.1,1.6 M240.4,505.9 l-1.5,1.1 M243.4,514.4 l1.6,0.8 M245.8,513.8 l-2.5,1.4 M251.6,511.7 l-1.7,0.3 M241.9,512.0 l1.8,2.3 M247.5,512.0 l-2.3,1.2 M243.1,510.7 l-2.9,1.5 M241.7,515.0 l-2.5,0.3 M246.6,509.1 l-0.3,2.5 M247.0,507.5 l-2.5,0.2 M244.3,514.5 l-0.5,2.4 M248.2,507.9 l-0.3,2.3 M251.7,515.6 l1.6,1.8 M240.6,511.2 l-2.8,1.8 M245.3,510.2 l2.3,1.5 M265.0,517.5 l-1.2,1.0 M256.8,518.3 l-1.2,1.8 M258.6,521.9 l2.8,1.0 M256.0,520.9 l1.3,1.3 M260.5,520.2 l0.9,2.2 M260.5,517.7 l2.2,1.7 M261.8,521.1 l-2.4,1.2 M264.2,518.4 l-2.1,2.3 M264.7,519.1 l1.8,2.8 M257.0,525.3 l-1.7,0.6 M257.3,522.8 l1.2,1.2 M263.9,520.1 l-1.4,1.1 M259.1,522.5 l1.9,0.1 M262.2,524.5 l-1.7,0.2 M204.0,467.1 l-0.0,2.9 M201.5,458.8 l1.5,0.5 M204.4,464.2 l-0.4,1.8 M201.5,460.4 l-3.1,1.7 M207.4,459.1 l3.3,0.7 M203.7,467.2 l1.3,2.1 M204.1,463.2 l-0.5,1.5 M205.6,468.1 l2.0,1.3" style="stroke-width:1.4"/>
<path d="M268.5,491 L272,487.4 L280.5,487.4 L284,491 L284,499 L280.5,502 L272,502 L268.5,499 Z" />
<ellipse cx="276.3" cy="500.4" rx="11" ry="4" />
<ellipse cx="276.3" cy="491" rx="5" ry="2" />
<path d="M276.3,507.8 L276.3,533.7" />
<path d="M268.9,443 L268.9,438.3 L273.5,434.6 L315.2,461.5 L348.5,514.3 L345.7,518 L309.6,499.4 Z" />
<path d="M272,441 L313,466 L343,516" />
<path d="M310,499 L312,493 L316,497" />
<path d="M316.9,424.8 L322.7,423.9 L356.9,448.3 M316.9,424.8 L318.8,433.6 L326.6,448.3 L327.6,452.2 L336.4,465.9 L341.3,468.8 L349.1,480.5 L356,484.4 L366.7,488.3 L375.5,494.2 L386.2,500 L388.1,501.4" />
<path d="M318.8,428.7 L324.7,428.7 L352,446 L357.9,451.2 M318.8,428.7 L320,432 M352,450.2 Q351,455 357.9,457.1 M321,431 L325,437" />
<path d="M326.6,449.5 L328.5,453 L337,466 L341,468 M355,480 L360,482.5 L364,487" />
<path d="M371.6,434.6 L400,431.7 M372.6,436.5 L400,433.6 M357.9,448.3 L371.6,434.6 M358.5,450 L372.6,436.5 M362.8,452.2 L400,441.4" />
<path d="M347.1,439.9 L366.6,432.1 L419.4,415.5 L427.2,413.6 L431.1,418.4 L434,440 L438.9,442.9 L494.6,438 L493.6,465.3 L488.7,473.1 L483.8,477 L464.3,486.8 L407.7,501.4 L401.8,500.5 L388.1,501.4" />
<path d="M359,450 L390,500 M361.5,449 L392.5,499.5 M356.9,448.3 L388.1,501.4 M400,431.7 L423,429.5 L428.9,432.1 L435,443 L438.9,446 L494,443" />
<path d="M386.2,480.9 Q392,474 397.9,473.1 L413.5,470.2 Q420,470 423.3,473.1 L425.2,480.9 L423.3,485.8 M390,488.8 L425.2,482.9 L466.3,475.1 L491.6,461.4 M411.6,471.2 L408.6,482.9" />
<path d="M464.3,479 L484.8,477 L484.8,482.9 L464.3,486.8 Z M396,496.6 L399.8,501.4 L409.6,500.5 L411.6,490.7" />
<ellipse cx="398.6" cy="459.8" rx="1.2" ry="1.5" />
<ellipse cx="451" cy="448.5" rx="1.2" ry="1.5" />
<ellipse cx="396.5" cy="489.6" rx="1.2" ry="1.5" />
<ellipse cx="450.4" cy="478.6" rx="1.2" ry="1.5" />
<path d="M362.7,395 Q372,410 376.4,429.2" style="stroke-width:2.2"/>
<path d="M373,424 L376.4,429.2 L378,423" style="stroke-width:1.6"/>
<path d="M507.8,395.4 L510.7,391.5 L562.5,374.9 L568.4,376.9 L571.3,383.7 L574.2,384.7 L623,370 L627.9,366.1 L627,359.3 L621.1,357.3 L660.2,346.6 L665,349.5 L671.9,343.7 L676.8,332.9 L681.6,330" />
<path d="M519.5,396.4 L566,382.5 M555.5,380.1 L560,378.8 L562.8,382.3 L558,383.5 Z M573,386.8 L627,371 L629.5,367 M630.9,362.2 L664,350.5 M645,354 L650,352.5 L652,355 L647,356 Z" />
<path d="M681.6,330 L675.8,335.9 L669.9,345.6 L664,351.5 L661.1,359.3 L660.2,369.1 L661.1,382.7 L662.1,386.6 M671.9,343.7 L668,355.4 L667,369.1 L668,384.7 L675.8,394.5 L700,400.3" />
<path d="M683.6,350 Q684,346 689,347.6 L693.4,352 Q694,357 689,357.3 L684.5,354 Z M671.9,374.9 L700,388.6" />
<path d="M507.8,395.4 L514.6,398.4 L517.5,404.2 L518.2,426.1 L521.9,430.5 L570,461.2 L575.9,458.2 L579.6,446.6 L579.6,421.8" />
<path d="M511,393 L516.5,397 L520,404 L520.6,425 L524,429 L570,458 M520.4,413 L573,445.1 M533.6,424.7 L573,449" />
<path d="M538,416 L578,406.5 M601.6,402.3 L662,386.6 M548,423.8 L578,418 M613,411 L700,396.4 M522.6,414.5 L530.7,412.3 L539.4,419.6 L529.2,421.8 Z" />
<path d="M578.1,404.2 Q580,396.4 584,396.4 L595.7,395.4 L601.6,402.3 L613.3,410.1 L597.7,412 L582,410.1 Z M586,404 L600,402 L606,408 L592,409 Z" />
<path d="M578.1,419.8 L640.6,415.9 L644.5,421.8 L625,423.8 L619.1,431.6 L609.4,425.7 L584,422.8 Z M629,432 Q635,423 644,420" />
<path d="M579.1,421.8 L578.1,449.1 M585.9,421.8 L584,451 M584,451 L587,462 L595.7,462.8 L597,452" />
<path d="M597.7,436.4 L603.5,435.5 L613.3,478.4 M601,436 L610.5,478 M609.4,435.5 L700,414 M609.4,460.9 L700,439.4 M662.1,408.1 L666,407 L677.7,414 L674,416 Z M654.3,447.2 Q650,460 656.3,470.6" />
<path d="M677.1,330.6 L691.2,340 L712.4,353 L729,364.8 L745.5,374.2 L762,383.7 L776.1,395.5 L797.3,407.2 L811.5,419 L823.3,421.4 L828,428.5 L830.3,447.3 L835,454.4 L838.6,459.1 L839.8,461.5 L813.8,470.9 L811.5,494.5 L778.5,506.3 L760,503.4 L751.6,506.6 L737.5,505 L729.7,514.4 L709.4,517.5 L696.9,525.3 L687.5,523.8 L681.3,511.3 L675,515 L668.8,525.3 L607.8,486.3 L601.6,434.7 L603.9,434.7" />
<path d="M679.4,343.6 L686.5,348.3 L712,362 L747.8,383.7 L797.3,415 L823.3,428 L828,440 L830,452 L838.6,460" />
<path d="M679.4,354.2 L797.3,423.7 M670,374.2 L745.5,414.3 L797.3,447.3 M797.3,428.5 L802,463.8 M816,425 L810,445 L808,470" />
<path d="M603.9,434.7 L610.9,481.6 L623.4,470.6 L629.7,481.6 L673.4,506.6 M620.3,483.5 L673.4,509.5 M609.5,488.5 L670,526" />
<path d="M603.9,434.7 L725.4,390.7 L740.7,400.2 L742,404 L747.8,447.3 L792.6,469.7" />
<path d="M670,421.4 L741.9,407.2 M609.4,461.3 L653.1,445.6 L741.9,429.6" />
<path d="M639,484.7 L662.5,478.4 L685.9,476.9 M696.9,462.8 L750.2,448.5" />
<path d="M671.9,461.3 L678.1,458.1 L692.2,458.1 L696.9,463.6 L704.7,470.6 L690.6,472.2 L675,473.8 L671.1,467.5 Z M676.6,466 L693.8,464.4 L700,469.8 L682.8,470.6 Z" />
<path d="M660.9,478.4 L687.5,476.9 L720.3,491.7 M661,480 L686,491 M684.4,480 L684.4,489.4 L679.7,491 M673.4,501.1 L718.8,492.5" />
<path d="M673.4,506.6 L740.6,489.4 L760,486.3 L792.6,469.7 L839.8,456.8 M678,509.5 L743.75,492.5 L760,489.5 L792.6,472.5 L839.8,459.5" />
<path d="M726.6,492.5 L736,491 L737.5,494 L729.7,495.6 Z M717.9,438.9 L720.4,454" />
<path d="M690,521 L692,512 M700,522 L698,514 M740,504 L745,497" />
<path d="M695.8,311.1 L706,307.4 Q726,305 741,308.9 L755.7,311.8 L767.3,308.1 L783.4,296.5 L786.3,292.1 L799.4,279 L801.6,270.2 L803.8,268 L809.3,266.5 L944.4,354.4 L944.4,361 L937,371.1 L929.6,367.4 L918.5,378.5 L918.5,382 L927.8,387.8 L918.5,419.3 L900,413.7 L883.3,411.9 L864.8,415.6 L857.7,414.1 L844.1,408.6 L824.9,389.5 L811.3,375.8 L789.4,359.4 L767.5,348.4 L751.1,337.5 L726.5,327.9 L711.2,320.2 L705.2,320.2 L702.1,312.6 L695.8,311.1" />
<path d="M805.6,271.1 L918.5,341.5 L944.4,358.1 M835.6,285.5 L940,354 M809.3,266.5 L803,275 L805.6,271.1 M840,289 L880,315.5" />
<path d="M784.8,293.6 L795,281.9 L805.3,287 L794.3,299.4 Z M784.8,293.6 L784.8,296.5 L794.3,302.3 L805.3,290" />
<path d="M717.7,311.8 L767.3,319.1 L780,308.3 L788.6,304 L804.7,313.3 L808.4,310.8 L812.1,307.7 L824.4,304.6 L836.8,312.7 M824.4,304.6 L826.9,284.9 L830,282" />
<path d="M788.6,304 L787.4,312 L802.2,320.7 L804.7,313.3 M802.2,320.7 L796,328.1 L787.4,333 M808.4,310.8 L804.7,323.1 L796,329.3 M836.8,312.7 L829.4,321.9 M809.6,312 L829.4,323" />
<path d="M699,313 L705,316 L711,319 L712,315 L706,313 M726.5,324.2 L768.8,348.3 M748.4,335.1 Q763,331.5 780,316" />
<path d="M770.2,337.5 L776,333 L787.4,333 L797.3,342.3 L784.9,347.8 L770.2,341.6 Z M770.2,341.6 L770.2,344 L784.9,350.5 L797.3,345.5 L797.3,342.3 M784.9,347.8 L784.9,350.5" />
<ellipse cx="775" cy="336.5" rx="1.5" ry="1" />
<path d="M784.9,355.2 L797.3,354 L839.3,344.1 L865.2,360.2 L866.4,373.8 M786.3,356.8 Q810,350 828,346 M839.3,344.1 L825.7,349.1" />
<path d="M823.2,376.2 L865.2,361.4 M823.2,376.2 L841.7,382.4 L866.4,375 M797.3,330.6 L820.7,344.1 M780,360.2 L789.9,366.4 L798.5,376.2 L817,383.6" />
<path d="M836.8,293.5 L841.7,294.8 L843,304.6 L839.3,309.6 L834.3,314.5 M830,285 L834,290 L836,293" />
<path d="M907.4,339.6 L900,358.1 M920.6,340.2 L915.2,367.6 L907,389.5 L898.8,403.1 L889,413" />
<path d="M866.7,400.7 L877.8,395.2 L892.6,403.5 L881.5,410 Z M866.7,400.7 L866.7,404 L881.5,413.3 L892.6,406.8" />
<path d="M818.3,321.9 L829.4,323.1 L828.1,347.8 L818.3,336.7 Z M821,323 L821,338" />
<path d="M838,329.3 Q845,318 856.5,309.6 L857.8,312 Q850,322 840.5,331.8 Z" />
<path d="M849.1,339.2 L870.1,317 L868.9,333 Z M852.8,336.7 L880,354 M868.9,333 L900,350" />
<path d="M871.4,366 Q875,362 880,364 L881,378 Q876,381 872,379 Z M880.5,367 Q886,364 891,367 L892,379 Q887,382 881,380" />
<path d="M865.9,359.4 L871.4,364.8 M874.2,332 L907,340.2 M868.7,373 L871,381 L890,385" />
<ellipse cx="873" cy="397" rx="1.3" ry="1" />
<ellipse cx="915" cy="335" rx="1.3" ry="1" />
<ellipse cx="842" cy="285.5" rx="1.3" ry="1" />
<path d="M823.3,209 L823.3,227 M836.3,209 L836.3,227" style="stroke-width:1.3"/>
<ellipse cx="829.7" cy="208" rx="6.5" ry="2.5" />
<path d="M827,206 L827,211 M832,206 L832,211 M825,213 L835,212 M824,215 L836,214 M824,217 L836,216 M824,219 L836,218 M824,221 L836,220 M824,223 L836,222 M824,225 L836,224" style="stroke-width:1.0"/>
<path d="M826,212 L834,212 L834,223 L826,223 Z" style="stroke-width:0.9"/>
<ellipse cx="829.7" cy="228.3" rx="14" ry="5" />
<path d="M815.7,228.3 L815.7,230 Q829.7,238 843.7,230 L843.7,228.3" />
<path d="M825.9,234 L825.9,248 M834.7,234 L834.7,248" />
<ellipse cx="829.7" cy="249" rx="9.6" ry="3.5" />
<path d="M820.1,249 L820.1,251 Q829.7,257 839.3,251 L839.3,249" />
<path d="M880.4,265 Q882,259 892.4,259 Q903,259 904.4,265 Q900,270 892.4,270.5 Q884,270 880.4,265 Z" />
<path d="M887.5,270 L887.5,283 Q892.4,289 897.5,283 L897.5,270 M886.5,273.5 Q892.4,276 898.5,273.5 M886.5,277 Q892.4,279.5 898.5,277 M886.5,280.5 Q892.4,283 898.5,280.5 M887.5,284 Q892.4,286.5 897.5,284" />
<path d="M450.6,532.7 L457.6,514.5 L464.6,510.2 L477.3,500.4 L495.5,498.3 L502.5,496.2 L513.7,494.1 L516.5,497.6 L519.3,505.3 L563.2,491.5 L566.6,492.5 L569.3,516.3 L574.3,536.5 L576.4,539.5 L611.7,562.7 L630.4,558.1 L634,560 L629.2,572.8 L543.2,605.6 L534.8,601.4 L523.5,598.6 L517.9,600 L491.3,580.4 L478.7,579 L461.8,567.7 L456.2,557.9 L450.6,541.1 Z" />
<path d="M452.3,533.5 L459,515.8 L465.6,511.8 L478,502.2 L495.8,500.3 L502.8,498.2 L514.5,496.2 L518,505 M520.5,507.3 L566.5,494" />
<path d="M452.7,534.1 L457.6,549.5 L464.6,563.5 L466,572 L491.3,581.8 L517.9,598.6 M456,540 L461.7,549.6 L464.6,556.8" />
<path d="M463.2,543.9 L474.5,548.1 L491.3,553.7 L510.9,539.7 L526.3,543.9 L527.8,550.9 L521.4,566.3 L529.2,570.6 L543.2,586 L628,561.8 M463.2,546.3 L474.5,550.5 L491.5,556.2 L511.2,542.2 L524.5,546 L525.5,551 L519.2,567 L527.4,572.4 L541.2,588.6 L628.5,564.4" />
<path d="M464.6,514.5 L466,539.7 M502.5,501.8 Q503,512 503.9,520.1 Q506,527 509.5,532.7 L510.9,539.7 M495.5,553.7 L495.5,580.4 M509.5,543.9 L509.5,569.1 L517.9,600 M511,543 L518,552 M463.2,543.9 L466,546.7 L464.6,569.1" />
<path d="M569.3,516.8 Q556,525 549.1,533.4 L549.1,539.5 L557.2,548.6 M552.1,532.9 L573.3,536.5 M540,559.7 L576.4,539.5 M626.9,559.7 L633.9,559.7 L628.9,572.8 M628,562 L626,570" />
<ellipse cx="632.9" cy="536.2" rx="17" ry="8.5" />
<path d="M625,533 Q625,524 634,523.5 Q643,524 643,533 Q634,538 625,533 Z" />
<path d="M572.3,547.6 Q590,536 613.7,533.9" style="stroke-width:1.4"/>
<path d="M574.5,544.5 L572.3,547.6 L576.5,547.8" />
<ellipse cx="635.3" cy="591.5" rx="13.4" ry="4.5" />
<path d="M621.9,591.5 L621.9,595 Q635.3,602 648.7,595 L648.7,591.5" />
<path d="M632,591 L632,583 Q635.3,580.5 638.6,583 L638.6,591 M621.9,593.5 Q635.3,600 648.7,593.5" />
<path d="M827,558.6 L839.8,554.5 M827,558.6 Q827,561.5 831,561 L845,557.5" />
<path d="M839.8,548 L844,546.3 L853.3,553.3 L853.3,558.6 L848,560.4 L839.8,554.5 Z M839.8,548 L848,553.8 L853.3,553.3 M848,553.8 L848,560.4" />
<path d="M849.8,548.6 L872,527 Q880,520 887,527 Q893,536 890.8,543 Q886,556 875,561.5 L853.3,555" />
<path d="M853.9,552.2 L874,531 Q881,526 884,530 Q888,536 886.1,541 Q882,552 872.7,558 L853.3,558.6" />
<ellipse cx="129" cy="545.4" rx="7.5" ry="3.5" />
<path d="M125,544 L133,547 M129,542 L129,548" />
<path d="M126.3,548 L126.3,558 L132.3,558 L132.3,548" />
<path d="M126.1,571.6 L136.3,572.3 L148,578.9 L153.8,586.9 L157.5,600 L158.9,616 L155.3,623.3 L149.4,632.1 L148,643.7 L158.2,644.5 L158.2,649.6 L165.5,655.4 L165.5,659.8 L129,690.4 L117.4,690.4 L114.4,684.5 L92.6,672.9 L86.7,667.1 L83.8,655.4 L91.1,642.3 L102.8,629.1 L95.5,623.3 L94,616 L99.9,591.2 L111.5,584 L118.8,576.7 Z" />
<path d="M136.3,575 L147,581 L152,588 L155.5,600 L156.5,616 L153,622 L147,631 L146,643 M136,577 L145,583 L150,590 L153.5,601 L154.5,615" />
<path d="M99.9,591.2 L113.7,583.2 L117.4,585.4 L116.6,626.2 L113,627.6 L95.5,620 M102,593 L111,588 L114,590 L113.5,624 M98,598 L100,599 M97,605 L99,606 M96,611 L98,612" />
<path d="M120.3,589.8 L130.5,585.4 L137.8,584 L140.7,586.1 L136.3,602.9 L134.1,633.5 L133.4,649.6 L124.7,658.3 L113,649.6 L121.8,626.2 L123.2,604.4 L120.3,598.5 Z" />
<path d="M129,601.4 L133.4,605.8 M124.7,624.8 L133.4,629.1 M121.8,640.9 L133.4,645.2" />
<ellipse cx="125.5" cy="594.2" rx="4.5" ry="2.5" />
<path d="M86.7,665 L114.4,681.6 L118.8,683 L129,680 L165.5,658.5 M92.6,672.9 L114.4,684.5 M114.5,659.8 L111.5,674.3 L115.9,681.6 M118.8,659.8 L126.1,658.3 L129,667.1 L124.7,680" />
<path d="M151.5,633.5 L151.5,655.4 L154,657 M91.1,642.3 L86.7,649.6 L88.1,661.3 L92.6,665.7 M102.8,629.1 L115.9,634 L113,649" />
<ellipse cx="123.2" cy="662.5" rx="2" ry="3" />
<path d="M165.2,627.8 L167.7,622.6 L169,605.8 L185.8,582.6 L188.4,578.7 L191,551.6 L195.5,546.5 L207.8,547.7 L211.6,551.6 L214.2,555.5 L222,559.4 L237.5,562 L245.2,567.1 L252.3,574.9 L251.7,583.9 L247.8,590.4 L243.9,594.2 L241.3,599.4 L263.3,595.5 L267.2,596.8 L263.3,599.4 L266.5,603.3 L249.1,608.4 L243.9,604.6 L240,627.8 L243.9,633 L225.8,642 L224.6,647.2 L216.8,647.2 L214.2,639.4 L211.6,627.8 L203.9,622.6 L197.4,620 Z" />
<path d="M171.6,618.8 L193.6,612.3 L192.9,587.8 L174.2,609.7 Z M169,605.8 L188,584 L189,580" />
<path d="M191,551.6 L192.3,582.6 L197.4,620 M198.7,549 L198.7,582.6 L200,617.4 M205.2,554.2 L203.9,582.6 L203,605" />
<path d="M207.8,553 L220.7,562 L224.6,575 L229.7,591.6 L229.7,604.6 L220.7,617.4 L218.1,630.3 M211.6,551.6 L223.3,559.4 L227.1,574 L232.3,591 L232.3,606 L223,619 L221,632" />
<ellipse cx="205.8" cy="600.7" rx="4.5" ry="11" />
<ellipse cx="214.9" cy="603.3" rx="2.5" ry="4" />
<path d="M209,577 L215,582 L214,586 M193,585 L216.8,591.6" />
<path d="M222,559.4 L227.1,565.8 L230.4,569.7 L245.2,567.1 M224.6,629.1 L242.6,604.6 M243,596 L250,601 L262,599" />
<path d="M216,634 L216,645 M219,634 L219,645 L224,643" />
<path d="M249.4,665.9 L270.5,622.5 L275.2,614.3 L282.2,611.4 L299.8,616.6 L326.7,640.1 L327.3,645.9 L316.2,646 L254,668.2 Z" />
<path d="M254,668.2 L274,625 L282.2,615.5 L297.4,620.2 L315,636.6 L317.3,644.8" />
<path d="M297,614 L306,618 L313,627 M267,628 L274,630 M255,651 L260,653" style="stroke-width:1.8"/>
<path d="M254,667 L316.2,646" style="stroke-width:1.6"/>
<path d="M236.3,711.3 Q247,714 260.9,714.8 Q275,713 286.7,707.7 Q297,700 303.1,690.2 L311.3,676.1 L319.5,673.8 M236.3,711.3 Q230,725 231.6,737 Q231,752 234,762.8 L244.5,776.9 L251.6,790.9 L263.3,802.7 L331.2,781.6" style="stroke-width:1.45"/>
<path d="M245.7,745.2 L270.3,739.4 Q276,743 280.9,742.9 Q288,740 292.6,731.2 L319.5,723 M245.7,745.2 L260.9,780.4 L291.4,769.8 M300.8,765.2 L324.2,759.3 M298.4,728.8 L312.5,760.5" style="stroke-width:1.3"/>
<path d="M261,780 L278,773" style="stroke-width:2"/>
<path d="M318.4,675 L319.5,707.7 M324.2,675 L324.2,707.7 M316,707.7 L326.6,707.7 L326.6,721.8 L316,721.8 Z M319,722 L322,735 L327,760 L331,768 L340.6,772.2" />
<path d="M323,723 L325,740 L329,758 L334,766 L341,770" />
<path d="M338.3,767.5 L352,766 L355.9,772 L355.9,780.4 L342,781 L338.3,774 Z M342,770 L342,781" />
<path d="M276,747.5 Q281,748 281.5,753 Q281,758 276,758.5 M272,749 L277,749.5 M271.5,752 L277,752.5 M272,755 L277,755.5 M273,757.5 L277,758" style="stroke-width:1.4"/>
<path d="M279.7,755.8 Q315,768 328.9,795.6" />
<path d="M352.3,703 L328.9,712.4 M333,708 L328.9,712.4 L334,713" style="stroke-width:1.5"/>
<path d="M314,739 L322,737 L326,741 M313,744 L322,744" />
<path d="M363.8,670.1 L373.9,667.4 L374.5,673.5 L379.3,678.2 L393.4,675.5 L393.4,680 L392.1,682.2 L393.4,685 L393.4,700.4 L392.1,702.5 L393.4,709.2 L383.3,711.9 L377.9,713.9 L373.9,715.9 L363.8,713.9 L362.4,703.8 L364.4,699.8 L367.1,700.4 L367.8,686.3 L363.1,684.3 L362.4,675.5 Z" />
<path d="M375.2,677.5 L375.2,712.6 M378.6,679.5 L378.6,711.2 M382,680.2 L382,711.2 M364.5,672 L374.5,673.5 M362.4,675.5 L366,675 L367,679 L364,680 M362.4,703.8 L366,702 L367,706 L364,708" />
<path d="M327.6,799.1 L333.6,797.1 L337.7,795.1 L339.2,796.6 L352.3,794.3 L357.4,797.1 L357.4,805.2 L358.4,806.2 L358.4,810.8 L357.4,811.8 L357.4,816.8 L343.7,818.3 L335.2,824.4 L333.6,823.9 L333.6,820.4 L327.6,819.8 L327.6,814.3 L331.1,813.8 L331.1,806.2 L327.6,805.2 Z" />
<path d="M334.6,807.2 L343.2,800.2 L357.4,798.1 M343.2,800.2 L343.2,806.2 L352.8,804.2 L352.8,808.2 L343.7,811.3 L343.7,818.3 M343.7,812.3 L357.4,811.3 M334.6,807.2 L334.6,820.4" />
<clipPath id="c90"><path d="M451.7,718.3 L658.4,648.4 L674.5,659.7 L672.4,661.3 L459.5,724.2 L455.6,723.2 Z"/></clipPath>
<path clip-path="url(#c90)" d="M451,718.3 L674,648.4 M451,719.3 L674,650.5 M451,720.3 L674,652.7 M451,721.2 L674,654.8 M451,722.2 L674,657.0 M451,723.2 L674,659.1 M451,724.2 L674,661.3 M450.0,640 L459.0,740 M453.8,640 L462.8,740 M457.6,640 L466.6,740 M461.4,640 L470.4,740 M465.2,640 L474.2,740 M469.0,640 L478.0,740 M472.8,640 L481.8,740 M476.6,640 L485.6,740 M480.4,640 L489.4,740 M484.2,640 L493.2,740 M488.0,640 L497.0,740 M491.8,640 L500.8,740 M495.6,640 L504.6,740 M499.4,640 L508.4,740 M503.2,640 L512.2,740 M507.0,640 L516.0,740 M510.8,640 L519.8,740 M514.6,640 L523.6,740 M518.4,640 L527.4,740 M522.2,640 L531.2,740 M526.0,640 L535.0,740 M529.8,640 L538.8,740 M533.6,640 L542.6,740 M537.4,640 L546.4,740 M541.2,640 L550.2,740 M545.0,640 L554.0,740 M548.8,640 L557.8,740 M552.6,640 L561.6,740 M556.4,640 L565.4,740 M560.2,640 L569.2,740 M564.0,640 L573.0,740 M567.8,640 L576.8,740 M571.6,640 L580.6,740 M575.4,640 L584.4,740 M579.2,640 L588.2,740 M583.0,640 L592.0,740 M586.8,640 L595.8,740 M590.6,640 L599.6,740 M594.4,640 L603.4,740 M598.2,640 L607.2,740 M602.0,640 L611.0,740 M605.8,640 L614.8,740 M609.6,640 L618.6,740 M613.4,640 L622.4,740 M617.2,640 L626.2,740 M621.0,640 L630.0,740 M624.8,640 L633.8,740 M628.6,640 L637.6,740 M632.4,640 L641.4,740 M636.2,640 L645.2,740 M640.0,640 L649.0,740 M643.8,640 L652.8,740 M647.6,640 L656.6,740 M651.4,640 L660.4,740 M655.2,640 L664.2,740 M659.0,640 L668.0,740 M662.8,640 L671.8,740 M666.6,640 L675.6,740 M670.4,640 L679.4,740 M674.2,640 L683.2,740" style="stroke-width:0.9"/>
<path d="M446.8,731 L447.8,721.3 L451.7,718.3 L658.4,648.4 L674.5,659.7 L673.5,661.9 M451.7,718.3 L455.6,723.2 L455.6,728.1 L446.8,731 M459.5,724.2 L672.4,661.3 M455.6,728.1 L674.5,661.9" />
<path d="M462.5,729 L462.5,734 L665.9,670.4 L665.9,665 M451.5,726 L454,724" style="stroke-width:1.1"/>
<path d="M452,719 L658,649" style="stroke-width:1.8"/>
<path d="M487.9,788.5 L495.7,785.1 L686.6,725.6 L690,725.6 L702.4,736.8 L700.1,739.1 L504.7,799.7 L499.1,799.7 Z" />
<path d="M496.8,787.4 L685.5,727.9 L694.5,735.7 L507,794.1 Z" />
<path d="M502.5,789.5 L684.4,730.1 L692.3,735.7 L508.1,791.9 Z" />
<clipPath id="c70"><path d="M496.8,787.4 L685.5,727.9 L690,731 L502.5,789.5 Z"/></clipPath>
<path clip-path="url(#c70)" d="M490.0,720 L500.0,800 M492.6,720 L502.6,800 M495.2,720 L505.2,800 M497.8,720 L507.8,800 M500.4,720 L510.4,800 M503.0,720 L513.0,800 M505.6,720 L515.6,800 M508.2,720 L518.2,800 M510.8,720 L520.8,800 M513.4,720 L523.4,800 M516.0,720 L526.0,800 M518.6,720 L528.6,800 M521.2,720 L531.2,800 M523.8,720 L533.8,800 M526.4,720 L536.4,800 M529.0,720 L539.0,800 M531.6,720 L541.6,800 M534.2,720 L544.2,800 M536.8,720 L546.8,800 M539.4,720 L549.4,800 M542.0,720 L552.0,800 M544.6,720 L554.6,800 M547.2,720 L557.2,800 M549.8,720 L559.8,800 M552.4,720 L562.4,800 M555.0,720 L565.0,800 M557.6,720 L567.6,800 M560.2,720 L570.2,800 M562.8,720 L572.8,800 M565.4,720 L575.4,800 M568.0,720 L578.0,800 M570.6,720 L580.6,800 M573.2,720 L583.2,800 M575.8,720 L585.8,800 M578.4,720 L588.4,800 M581.0,720 L591.0,800 M583.6,720 L593.6,800 M586.2,720 L596.2,800 M588.8,720 L598.8,800 M591.4,720 L601.4,800 M594.0,720 L604.0,800 M596.6,720 L606.6,800 M599.2,720 L609.2,800 M601.8,720 L611.8,800 M604.4,720 L614.4,800 M607.0,720 L617.0,800 M609.6,720 L619.6,800 M612.2,720 L622.2,800 M614.8,720 L624.8,800 M617.4,720 L627.4,800 M620.0,720 L630.0,800 M622.6,720 L632.6,800 M625.2,720 L635.2,800 M627.8,720 L637.8,800 M630.4,720 L640.4,800 M633.0,720 L643.0,800 M635.6,720 L645.6,800 M638.2,720 L648.2,800 M640.8,720 L650.8,800 M643.4,720 L653.4,800 M646.0,720 L656.0,800 M648.6,720 L658.6,800 M651.2,720 L661.2,800 M653.8,720 L663.8,800 M656.4,720 L666.4,800 M659.0,720 L669.0,800 M661.6,720 L671.6,800 M664.2,720 L674.2,800 M666.8,720 L676.8,800 M669.4,720 L679.4,800 M672.0,720 L682.0,800 M674.6,720 L684.6,800 M677.2,720 L687.2,800 M679.8,720 L689.8,800 M682.4,720 L692.4,800 M685.0,720 L695.0,800 M687.6,720 L697.6,800 M690.2,720 L700.2,800 M692.8,720 L702.8,800 M695.4,720 L705.4,800" style="stroke-width:0.6"/>
<path d="M660.2,766.5 L662,763.5 L683,761.4 L692.2,769.7 L690.5,772.5 L668.5,775.2 Z M660.2,766.5 L668.5,773.2 L692.2,769.7" />
<path d="M668,775 L666.5,781 L668,786 L669.5,792 L673,796.5 L679,796.5 L683,792 L685,786 L685.5,780 L683.5,773.5 M667,780 Q676,783 685.5,779 M668,786 Q676,789 685,785 M669.5,791.5 Q676,794 683,791 M672.5,784 L678,783.5 L678,789 L672.5,789 Z" />
<path d="M626.7,703.5 L627.9,699.6 L632.9,698.5 L635.0,699.3 L648.1,694.0 L651.0,694.5 L654.8,691.5 L659.3,694.0 L660.4,696.2 L664.9,697.1 L667.1,700.7 L666.0,706.3 L662.6,710.3 L666.0,714.2 L666.0,721.5 L663.8,723.2 L659.3,723.2 L658.2,725.4 L643.6,728.8 L638.5,731.0 L634.0,728.8 L629.5,724.3 L627.3,720.9 L627.9,716.4 L630.1,713.1 L626.7,707.4 Z" />
<path d="M636.3,703.5 L658.2,696.8 L659.3,708.6 L655.9,711.9 L644.7,715.9 M638.5,704.5 L639.6,714.2 L643.6,717.5 L641.9,721.0 L643.6,725.4 L658.2,721.0 L659.3,716.5 L656.0,714.0 L655.9,711.9 M631.2,704.6 L634.0,715.9 L636.8,723.2 L632.3,721.0 L631.2,725.4 M628.5,706.0 L631.2,704.6 L635.0,703.8 M662.0,713.0 L661.5,716.5" />
<path d="M684.4,646.9 L686,642 L688.1,637.4 L691,636.6 L694.6,639.5 L753.2,622 L806,608.1 L816.2,607.3 L821.3,611.7 L817.7,613.9 L812.6,619 L812.6,622 L703.4,655.7 L703.4,647.6 L686.6,648.3 Z" />
<path d="M694.6,639.5 L703.4,647.6 M694.6,641 L817.7,612 M698,643 L813,614.5 M701,645.5 L810,617 M703.4,647.6 L812.6,619" style="stroke-width:1.0"/>
<path d="M687,642 L690,644 L689,647" />
<path d="M761.9,654.0 L763.1,650.1 L768.1,649.0 L770.2,649.8 L783.3,644.5 L786.2,645.0 L790.0,642.0 L794.5,644.5 L795.6,646.7 L800.1,647.6 L802.3,651.2 L801.2,656.8 L797.8,660.8 L801.2,664.7 L801.2,672.0 L799.0,673.7 L794.5,673.7 L793.4,675.9 L778.8,679.3 L773.7,681.5 L769.2,679.3 L764.7,674.8 L762.5,671.4 L763.1,666.9 L765.3,663.6 L761.9,657.9 Z" />
<path d="M771.5,654.0 L793.4,647.3 L794.5,659.1 L791.1,662.4 L779.9,666.4 M773.7,655.0 L774.8,664.7 L778.8,668.0 L777.1,671.5 L778.8,675.9 L793.4,671.5 L794.5,667.0 L791.2,664.5 L791.1,662.4 M766.4,655.1 L769.2,666.4 L772.0,673.7 L767.5,671.5 L766.4,675.9 M763.7,656.5 L766.4,655.1 L770.2,654.3 M797.2,663.5 L796.7,667.0" />
<path d="M724.8,716.3 L730.9,710.8 Q775,699 815.7,685.5 L843,671.8 L846.5,671.2 L856,680 L855.4,682.1 Q830,696 815.7,701.9 Q775,715 740.5,723.8 L736.4,724.5 Z" />
<path d="M733,712.2 Q785,700 840.3,674.6 L849.9,682.1 Q790,708 740.5,718.3 Z" />
<path d="M737.8,712.9 Q785,702 839,676.6 L846.5,682.1 Q790,706 742.6,716.3 Z" />
<clipPath id="c80"><path d="M733,712.2 Q785,700 840.3,674.6 L843,677 Q785,702 737.8,712.9 Z"/></clipPath>
<path clip-path="url(#c80)" d="M725.0,660 L733.0,730 M727.7,660 L735.7,730 M730.4,660 L738.4,730 M733.1,660 L741.1,730 M735.8,660 L743.8,730 M738.5,660 L746.5,730 M741.2,660 L749.2,730 M743.9,660 L751.9,730 M746.6,660 L754.6,730 M749.3,660 L757.3,730 M752.0,660 L760.0,730 M754.7,660 L762.7,730 M757.4,660 L765.4,730 M760.1,660 L768.1,730 M762.8,660 L770.8,730 M765.5,660 L773.5,730 M768.2,660 L776.2,730 M770.9,660 L778.9,730 M773.6,660 L781.6,730 M776.3,660 L784.3,730 M779.0,660 L787.0,730 M781.7,660 L789.7,730 M784.4,660 L792.4,730 M787.1,660 L795.1,730 M789.8,660 L797.8,730 M792.5,660 L800.5,730 M795.2,660 L803.2,730 M797.9,660 L805.9,730 M800.6,660 L808.6,730 M803.3,660 L811.3,730 M806.0,660 L814.0,730 M808.7,660 L816.7,730 M811.4,660 L819.4,730 M814.1,660 L822.1,730 M816.8,660 L824.8,730 M819.5,660 L827.5,730 M822.2,660 L830.2,730 M824.9,660 L832.9,730 M827.6,660 L835.6,730 M830.3,660 L838.3,730 M833.0,660 L841.0,730 M835.7,660 L843.7,730 M838.4,660 L846.4,730 M841.1,660 L849.1,730 M843.8,660 L851.8,730" style="stroke-width:0.6"/>
<path d="M742,716.5 Q790,705 846,681" style="stroke-width:1.3"/>
<path d="M757.8,733.3 L759.5,730.5 L778.6,728.2 L789,736.5 L787.5,739.5 L766.1,742.4 Z M757.8,733.3 L766.1,740.4 L789,736.5" />
<path d="M764.5,742 L763.5,748 L765,753 L766.5,758 L770,762.5 L776,762.5 L780,758 L782,752 L782.5,746 L781,740 M764,747 Q773,750 782.5,746 M765,753 Q773,756 782,752 M766.5,758 Q773,760.5 780,757.5 M769.5,750.5 L775,750 L775,755.5 L769.5,755.5 Z" />
</g>
<g class="tu">
<text transform="translate(829.7,200.0) scale(0.8,1)" text-anchor="middle">270</text>
<text transform="translate(894.4,254.4) scale(0.8,1)" text-anchor="middle">280</text>
<text transform="translate(383.5,334.8) scale(0.8,1)" text-anchor="middle">250</text>
<text transform="translate(409.0,368.2) scale(0.8,1)" text-anchor="middle">260</text>
<text transform="translate(902.0,437.2) scale(0.8,1)" text-anchor="middle">200</text>
<text transform="translate(790.0,525.0) scale(0.8,1)" text-anchor="middle">210</text>
<text transform="translate(246.7,541.6) scale(0.8,1)" text-anchor="middle">10</text>
<text transform="translate(290.6,521.3) scale(0.8,1)" text-anchor="middle">20</text>
<text transform="translate(343.9,537.0) scale(0.8,1)" text-anchor="middle">30</text>
<text transform="translate(403.8,520.2) scale(0.8,1)" text-anchor="middle">50</text>
<text transform="translate(662.2,548.0) scale(0.8,1)" text-anchor="middle">65</text>
<text transform="translate(662.7,599.8) scale(0.8,1)" text-anchor="middle">60</text>
<text transform="translate(580.4,615.2) scale(0.8,1)" text-anchor="middle">40</text>
<text transform="translate(863.0,581.0) scale(0.8,1)" text-anchor="middle">230</text>
<text transform="translate(129.7,536.8) scale(0.8,1)" text-anchor="middle">370</text>
<text transform="translate(270.2,582.5) scale(0.8,1)" text-anchor="middle">350</text>
<text transform="translate(311.0,611.0) scale(0.8,1)" text-anchor="middle">380</text>
<text transform="translate(160.0,693.0) scale(0.8,1)" text-anchor="middle">360</text>
<text transform="translate(410.2,699.0) scale(0.8,1)" text-anchor="middle">140</text>
<text transform="translate(228.6,790.4) scale(0.8,1)" text-anchor="middle">130</text>
<text transform="translate(373.4,814.3) scale(0.8,1)" text-anchor="middle">150</text>
<text transform="translate(498.9,744.2) scale(0.8,1)" text-anchor="middle">90</text>
<text transform="translate(543.5,809.8) scale(0.8,1)" text-anchor="middle">70</text>
<text transform="translate(696.6,798.9) scale(0.8,1)" text-anchor="middle">75</text>
<text transform="translate(740.7,619.2) scale(0.8,1)" text-anchor="middle">100</text>
<text transform="translate(817.5,657.6) scale(0.8,1)" text-anchor="middle">120</text>
<text transform="translate(682.1,706.7) scale(0.8,1)" text-anchor="middle">120</text>
<text transform="translate(833.7,717.2) scale(0.8,1)" text-anchor="middle">80</text>
<text transform="translate(794.9,765.7) scale(0.8,1)" text-anchor="middle">85</text>
<text transform="translate(564.8,262.4) scale(0.8,1)" text-anchor="middle">400</text>
</g>
<g class="td">
<text transform="translate(829.7,200.0) scale(0.8,1)" text-anchor="middle">270</text>
<text transform="translate(894.4,254.4) scale(0.8,1)" text-anchor="middle">280</text>
<text transform="translate(383.5,334.8) scale(0.8,1)" text-anchor="middle">250</text>
<text transform="translate(409.0,368.2) scale(0.8,1)" text-anchor="middle">260</text>
<text transform="translate(902.0,437.2) scale(0.8,1)" text-anchor="middle">200</text>
<text transform="translate(790.0,525.0) scale(0.8,1)" text-anchor="middle">210</text>
<text transform="translate(246.7,541.6) scale(0.8,1)" text-anchor="middle">10</text>
<text transform="translate(290.6,521.3) scale(0.8,1)" text-anchor="middle">20</text>
<text transform="translate(343.9,537.0) scale(0.8,1)" text-anchor="middle">30</text>
<text transform="translate(403.8,520.2) scale(0.8,1)" text-anchor="middle">50</text>
<text transform="translate(662.2,548.0) scale(0.8,1)" text-anchor="middle">65</text>
<text transform="translate(662.7,599.8) scale(0.8,1)" text-anchor="middle">60</text>
<text transform="translate(580.4,615.2) scale(0.8,1)" text-anchor="middle">40</text>
<text transform="translate(863.0,581.0) scale(0.8,1)" text-anchor="middle">230</text>
<text transform="translate(129.7,536.8) scale(0.8,1)" text-anchor="middle">370</text>
<text transform="translate(270.2,582.5) scale(0.8,1)" text-anchor="middle">350</text>
<text transform="translate(311.0,611.0) scale(0.8,1)" text-anchor="middle">380</text>
<text transform="translate(160.0,693.0) scale(0.8,1)" text-anchor="middle">360</text>
<text transform="translate(410.2,699.0) scale(0.8,1)" text-anchor="middle">140</text>
<text transform="translate(228.6,790.4) scale(0.8,1)" text-anchor="middle">130</text>
<text transform="translate(373.4,814.3) scale(0.8,1)" text-anchor="middle">150</text>
<text transform="translate(498.9,744.2) scale(0.8,1)" text-anchor="middle">90</text>
<text transform="translate(543.5,809.8) scale(0.8,1)" text-anchor="middle">70</text>
<text transform="translate(696.6,798.9) scale(0.8,1)" text-anchor="middle">75</text>
<text transform="translate(740.7,619.2) scale(0.8,1)" text-anchor="middle">100</text>
<text transform="translate(817.5,657.6) scale(0.8,1)" text-anchor="middle">120</text>
<text transform="translate(682.1,706.7) scale(0.8,1)" text-anchor="middle">120</text>
<text transform="translate(833.7,717.2) scale(0.8,1)" text-anchor="middle">80</text>
<text transform="translate(794.9,765.7) scale(0.8,1)" text-anchor="middle">85</text>
<text transform="translate(564.8,262.4) scale(0.8,1)" text-anchor="middle">400</text>
</g>
</svg>
</body></html>
